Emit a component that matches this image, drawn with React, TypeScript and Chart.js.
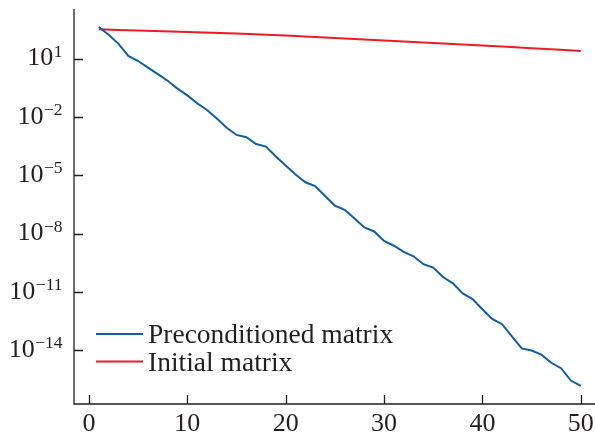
import React, { useEffect, useRef } from 'react';
import { Chart, registerables } from 'chart.js';

Chart.register(...registerables);

// ---- data ----
const iterations = [
  1, 2, 3, 4, 5, 6, 7, 8, 9, 10,
  11, 12, 13, 14, 15, 16, 17, 18, 19, 20,
  21, 22, 23, 24, 25, 26, 27, 28, 29, 30,
  31, 32, 33, 34, 35, 36, 37, 38, 39, 40,
  41, 42, 43, 44, 45, 46, 47, 48, 49, 50,
];
const preconditionedValues = [
  4.3e2, 1.7e2, 5.8e1, 1.4e1, 7.6, 3.5, 1.6, 0.74, 0.29, 0.13,
  5.1e-2, 2.3e-2, 8.5e-3, 2.8e-3, 1.2e-3, 9.1e-4, 4.1e-4, 3.0e-4, 9.3e-5, 3.2e-5,
  1.1e-5, 4.4e-6, 2.8e-6, 8.7e-7, 2.8e-7, 1.7e-7, 6.0e-8, 2.1e-8, 1.3e-8, 4.2e-9,
  2.4e-9, 1.15e-9, 6.9e-10, 2.7e-10, 1.8e-10, 5.9e-11, 2.8e-11, 8.5e-12, 4.3e-12, 1.3e-12,
  4.1e-13, 2.2e-13, 5.2e-14, 1.26e-14, 9.8e-15, 6.0e-15, 2.3e-15, 1.2e-15, 2.8e-16, 1.5e-16,
];
const initialIterations = [1, 5, 10, 15, 20, 25, 30, 35, 40, 45, 50];
const initialValues = [325, 282, 236, 198, 158, 116, 87, 64, 48, 35, 25];

const seriesLabels = ['Preconditioned matrix', 'Initial matrix'];
const seriesColors = ['#0d5fab', '#ed1c24'];
const xTickValues = [0, 10, 20, 30, 40, 50];
const yTickExponents = [1, -2, -5, -8, -11, -14];

const FONT = '"Liberation Serif", "Times New Roman", "DejaVu Serif", serif';
const TEXT = '#231f20';
const AXIS = '#231f20';

const decorPlugin = {
  id: 'decor',
  afterDraw(chart: any) {
    const { ctx, chartArea: a, scales } = chart;
    const x = scales.x;
    const y = scales.y;
    ctx.save();
    // axes lines + inward ticks
    ctx.strokeStyle = AXIS;
    ctx.lineWidth = 1.3;
    ctx.beginPath();
    ctx.moveTo(a.left, a.top);
    ctx.lineTo(a.left, a.bottom);
    ctx.lineTo(a.right, a.bottom);
    for (const v of xTickValues) {
      const px = Math.round(x.getPixelForValue(v)) + 0.5;
      ctx.moveTo(px, a.bottom);
      ctx.lineTo(px, a.bottom - 9);
    }
    for (const e of yTickExponents) {
      const py = Math.round(y.getPixelForValue(Math.pow(10, e))) + 0.5;
      ctx.moveTo(a.left, py);
      ctx.lineTo(a.left + 9, py);
    }
    ctx.stroke();

    // y tick labels: 10 with superscript exponent
    ctx.fillStyle = TEXT;
    ctx.textBaseline = 'alphabetic';
    ctx.textAlign = 'right';
    const right = 62.5;
    for (const e of yTickExponents) {
      const py = y.getPixelForValue(Math.pow(10, e));
      const expStr = e < 0 ? '\u2212' + Math.abs(e) : String(e);
      ctx.font = `17.5px ${FONT}`;
      const ew = ctx.measureText(expStr).width;
      ctx.fillText(expStr, right, py - 2);
      ctx.font = `26px ${FONT}`;
      ctx.fillText('10', right - ew - 0.5, py + 6.5);
    }

    // legend inside plot
    const ds = chart.data.datasets;
    const rowY = [334, 361.5];
    ctx.textAlign = 'left';
    ctx.font = `27.5px ${FONT}`;
    ds.forEach((d: any, i: number) => {
      ctx.strokeStyle = d.borderColor;
      ctx.lineWidth = 2;
      ctx.beginPath();
      ctx.moveTo(96, rowY[i]);
      ctx.lineTo(143, rowY[i]);
      ctx.stroke();
      ctx.fillStyle = TEXT;
      ctx.fillText(d.label, 148, rowY[i] + 9);
    });
    ctx.restore();
  },
};

export default function App() {
  const canvasRef = useRef<HTMLCanvasElement | null>(null);

  useEffect(() => {
    if (!canvasRef.current) return;
    const chart = new Chart(canvasRef.current, {
      type: 'line',
      data: {
        datasets: [
          {
            label: seriesLabels[0],
            data: iterations.map((n, i) => ({ x: n, y: preconditionedValues[i] })),
            borderColor: seriesColors[0],
            backgroundColor: seriesColors[0],
            borderWidth: 2,
            pointRadius: 0,
            tension: 0,
          },
          {
            label: seriesLabels[1],
            data: initialIterations.map((n, i) => ({ x: n, y: initialValues[i] })),
            borderColor: seriesColors[1],
            backgroundColor: seriesColors[1],
            borderWidth: 2,
            pointRadius: 0,
            tension: 0.3,
          },
        ],
      },
      options: {
        responsive: false,
        animation: false,
        layout: { padding: { top: 9, right: 0, bottom: 0, left: 0 } },
        plugins: {
          legend: { display: false },
          tooltip: { enabled: false },
        },
        scales: {
          x: {
            type: 'linear',
            min: -1.525,
            max: 51.45,
            grid: { display: false, drawTicks: false },
            border: { display: false },
            ticks: {
              font: { family: FONT, size: 26 },
              color: TEXT,
              padding: 5,
              maxRotation: 0,
              autoSkip: false,
            },
            afterBuildTicks: (scale: any) => {
              scale.ticks = xTickValues.map((v) => ({ value: v }));
            },
            afterFit: (scale: any) => {
              scale.height = 32;
              scale.paddingLeft = 0;
              scale.paddingRight = 0;
            },
          },
          y: {
            type: 'logarithmic',
            min: Math.pow(10, -16.76),
            max: Math.pow(10, 3.557),
            grid: { display: false, drawTicks: false },
            border: { display: false },
            ticks: { display: false },
            afterBuildTicks: (scale: any) => {
              scale.ticks = yTickExponents.map((e) => ({ value: Math.pow(10, e) }));
            },
            afterFit: (scale: any) => {
              scale.width = 74;
              scale.paddingTop = 0;
              scale.paddingBottom = 0;
            },
          },
        },
      },
      plugins: [decorPlugin],
    });
    return () => chart.destroy();
  }, []);

  return (
    <div style={{ position: 'absolute', left: 0, top: 0, width: 595, height: 436, background: '#fff' }}>
      <canvas ref={canvasRef} width={595} height={436} style={{ display: 'block' }} />
    </div>
  );
}
